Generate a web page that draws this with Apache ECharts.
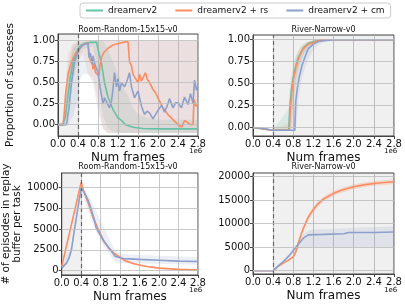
<!DOCTYPE html>
<html><head><meta charset="utf-8">
<script src="https://cdn.jsdelivr.net/npm/echarts@6/dist/echarts.min.js"></script>
<style>html,body{margin:0;padding:0;background:#fff}#c{width:405px;height:305px}</style>
</head><body><div id="c"></div>
<script>
// ---------- DATA (x in units of 1e6 frames) ----------
const seriesNames = ['dreamerv2', 'dreamerv2 + rs', 'dreamerv2 + cm'];
const panelTitles = ['Room-Random-15x15-v0', 'River-Narrow-v0', 'Room-Random-15x15-v0', 'River-Narrow-v0'];
const xTicks = [0, 0.4, 0.8, 1.2, 1.6, 2.0, 2.4, 2.8];
const yTicksSuccess = [0, 0.25, 0.5, 0.75, 1.0];
const yTicksEpRoom = [0, 2500, 5000, 7500, 10000];
const yTicksEpRiver = [0, 5000, 10000, 15000, 20000];

// Top-left: Room-Random success
const tlGreenX = [0,0.1,0.15,0.2,0.25,0.3,0.35,0.4,0.45,0.5,0.55,0.6,0.65,0.7,0.77,0.8,0.87,0.93,1.0,1.1,1.2,1.27,1.35,1.5,1.7,2.0,2.4,2.8];
const tlGreenY = [0,0,0.1,0.35,0.58,0.74,0.84,0.9,0.94,0.96,0.97,0.975,0.98,0.98,0.985,0.9,0.73,0.5,0.33,0.18,0.08,0.05,0.0,-0.03,-0.045,-0.05,-0.05,-0.05];
const tlOrangeX = [0,0.1,0.12,0.15,0.2,0.27,0.33,0.4,0.45,0.5,0.55,0.6,0.63,0.66,0.68,0.7,0.72,0.75,0.78,0.82,0.84,0.87,0.92,1.0,1.1,1.17,1.3,1.4,1.43,1.47,1.5,1.55,1.6,1.63,1.67,1.7,1.75,1.78,1.85,1.9,1.95,2.0,2.1,2.2,2.3,2.4,2.47,2.5,2.53,2.58,2.65,2.7,2.72,2.76,2.8];
const tlOrangeY = [0,0,0.1,0.35,0.6,0.75,0.83,0.88,0.92,0.95,0.97,0.97,0.8,0.74,0.78,0.66,0.73,0.62,0.6,0.58,0.7,0.8,0.86,0.91,0.95,0.96,0.98,0.99,0.75,0.7,0.6,0.55,0.5,0.6,0.52,0.5,0.62,0.55,0.48,0.42,0.38,0.32,0.2,0.12,0.06,0.0,-0.03,-0.03,0.05,0.03,0.0,0.0,0.3,0.22,0.24];
const tlBlueX = [0,0.1,0.17,0.22,0.27,0.33,0.4,0.45,0.5,0.55,0.6,0.62,0.65,0.68,0.7,0.72,0.75,0.8,0.84,0.87,0.9,0.93,0.97,1.03,1.07,1.1,1.13,1.17,1.2,1.23,1.27,1.33,1.38,1.43,1.47,1.53,1.6,1.67,1.73,1.78,1.83,1.9,2.0,2.07,2.13,2.18,2.23,2.3,2.35,2.4,2.47,2.53,2.6,2.65,2.7,2.73,2.77,2.8];
const tlBlueY = [0,0,0,0.2,0.5,0.75,0.87,0.92,0.95,0.96,0.97,0.8,0.85,0.72,0.82,0.76,0.7,0.62,0.45,0.35,0.25,0.32,0.3,0.2,0.28,0.43,0.62,0.45,0.55,0.4,0.5,0.45,0.52,0.62,0.45,0.32,0.4,0.22,0.12,0.16,0.14,0.07,0.17,0.23,0.15,0.22,0.31,0.2,0.26,0.26,0.2,0.33,0.24,0.37,0.25,0.53,0.41,0.45];
const tlBandX = [0,0.1,0.2,0.3,0.4,0.45,0.5,0.6,0.7,0.8,0.85,0.9,1.0,1.1,1.2,1.3,1.4,1.5,1.6,1.8,2.0,2.2,2.4,2.6,2.8];
const tlGreenHi = [0,0.02,0.6,0.9,0.97,0.98,0.99,1.0,1.0,1.0,1.0,1.0,0.9,0.75,0.6,0.45,0.35,0.2,0.12,0.08,0.06,0.06,0.06,0.06,0.06];
const tlGreenLo = [0,-0.02,0.1,0.5,0.8,0.85,0.9,0.92,0.93,0.6,0.3,0.1,-0.05,-0.08,-0.1,-0.1,-0.1,-0.1,-0.1,-0.1,-0.1,-0.1,-0.1,-0.1,-0.1];
const tlOrangeHi = [0,0.02,0.85,0.97,1.0,1.0,1.0,1.0,1.0,1.0,1.0,1.0,1.0,1.0,1.0,1.0,1.0,1.0,1.0,1.0,1.0,1.0,1.0,1.0,1.0];
const tlOrangeLo = [0,-0.02,0.3,0.55,0.75,0.8,0.85,0.6,0.55,0.3,0.1,-0.05,-0.1,-0.1,-0.1,-0.1,-0.1,-0.1,-0.1,-0.1,-0.1,-0.1,-0.1,-0.1,-0.1];
const tlBlueHi = [0,0.02,0.7,0.95,0.98,1.0,1.0,1.0,1.0,1.0,1.0,1.0,1.0,1.0,1.0,1.0,1.0,1.0,1.0,1.0,1.0,1.0,1.0,1.0,1.0];
const tlBlueLo = [0,-0.02,0.0,0.1,0.3,0.55,0.6,0.6,0.5,0.15,0.05,-0.05,-0.1,-0.1,-0.1,-0.1,-0.1,-0.1,-0.1,-0.1,-0.1,-0.1,-0.1,-0.1,-0.1];

// Top-right: River-Narrow success
const trGreenX = [0,0.2,0.4,0.6,0.71,0.73,0.76,0.8,0.85,0.9,1.0,1.1,1.2,1.4,2.8];
const trGreenY = [0,-0.015,-0.03,-0.03,-0.03,0.22,0.42,0.57,0.7,0.8,0.91,0.96,0.98,1.0,1.0];
const trOrangeX = [0,0.1,0.2,0.3,0.4,0.5,0.6,0.72,0.74,0.77,0.8,0.85,0.9,0.95,1.0,1.1,1.2,1.3,1.4,1.6,2.0,2.4,2.8];
const trOrangeY = [0,-0.005,-0.015,-0.025,-0.03,-0.03,-0.03,-0.03,0.2,0.4,0.55,0.68,0.78,0.85,0.9,0.95,0.97,0.99,1.0,1.0,1.0,1.0,1.0];
const trBlueX = [0,0.2,0.4,0.6,0.83,0.85,0.88,0.92,0.97,1.03,1.1,1.2,1.3,1.4,1.6,2.8];
const trBlueY = [0,-0.01,-0.03,-0.03,-0.03,0.3,0.45,0.58,0.7,0.8,0.9,0.95,0.98,0.99,1.0,1.0];
const trBandX = [0,0.4,0.7,0.75,0.8,0.85,0.9,0.95,1.0,1.1,1.2,1.3,1.4,1.6,2.8];
const trGreenHi = [0,-0.02,0.2,0.55,0.72,0.82,0.88,0.92,0.95,0.98,0.99,1,1,1,1];
const trGreenLo = [0,-0.04,-0.04,0.0,0.3,0.5,0.65,0.75,0.82,0.9,0.95,0.97,0.99,1,1];
const trOrangeHi = [0,-0.02,0.05,0.5,0.7,0.8,0.87,0.92,0.95,0.98,0.99,1.0,1.0,1.0,1.0];
const trOrangeLo = [0,-0.04,-0.04,-0.04,0.25,0.55,0.68,0.77,0.84,0.92,0.95,0.97,0.99,1.0,1.0];
const trBlueHi = [0,-0.02,-0.02,0.2,0.5,0.7,0.8,0.86,0.9,0.95,0.98,0.99,1,1,1];
const trBlueLo = [0,-0.04,-0.04,-0.04,-0.04,-0.04,0.3,0.5,0.62,0.78,0.88,0.94,0.97,0.99,1];

// Bottom-left: Room-Random episodes in buffer
const blOrangeX = [0,0.4,0.45,0.5,0.57,0.65,0.77,0.87,0.97,1.07,1.17,1.3,1.5,1.75,2.0,2.4,2.8];
const blOrangeY = [500,10600,9600,8800,7700,6300,4700,3500,2700,2100,1700,1200,800,500,300,150,80];
const blOrangeHi = [600,10900,9900,9100,8000,6600,5000,3750,2900,2250,1850,1330,900,600,380,220,140];
const blOrangeLo = [400,10300,9300,8500,7400,6000,4400,3250,2500,1950,1550,1070,700,400,220,80,20];
const blBlueX = [0,0.1,0.15,0.2,0.25,0.3,0.35,0.4,0.47,0.54,0.61,0.67,0.71,0.77,0.87,1.0,1.1,1.27,1.6,2.0,2.4,2.8];
const blBlueY = [300,900,1500,2500,4500,6300,8200,9900,9300,8500,7300,6100,5100,4500,3500,2500,1700,1450,1350,1250,1150,1100];
const blBandX = [0,0.2,0.3,0.4,0.5,0.6,0.7,0.8,0.9,1.0,1.1,1.2,1.4,2.0,2.8];
const blBlueHi = [500,3000,6800,10000,9500,8500,7200,6000,4800,3500,2400,2100,1900,1800,1600];
const blBlueLo = [100,2000,5800,9600,8000,6200,4800,3600,2600,1800,1000,900,900,800,700];

// Bottom-right: River-Narrow episodes in buffer
const brOrangeX = [0,0.4,0.5,0.6,0.7,0.8,0.85,0.9,0.95,1.0,1.1,1.2,1.3,1.4,1.6,1.8,2.0,2.2,2.4,2.6,2.8];
const brOrangeY = [0,0,900,1600,2200,3000,4000,5800,7500,9000,11400,13000,14300,15200,16400,17200,17800,18200,18500,18700,18850];
const brOrangeHi = [0,0,1000,1750,2400,3300,4500,6400,8100,9600,12000,13600,14800,15700,16900,17700,18300,18700,19000,19200,19350];
const brOrangeLo = [0,0,800,1450,2000,2700,3500,5200,6900,8400,10800,12400,13800,14700,15900,16700,17300,17700,18000,18200,18350];
const brBlueX = [0,0.4,0.5,0.6,0.73,0.8,0.9,1.0,1.1,1.4,1.8,1.9,2.4,2.8];
const brBlueY = [0,0,1000,1900,3300,4300,5600,6900,7600,7700,7850,8100,8100,8200];
const brBandX = [0,0.4,0.8,0.9,1.0,1.1,1.2,1.6,2.0,2.8];
const brBlueHi = [0,0,4600,6300,7800,8600,8800,8900,9100,9400];
const brBlueLo = [0,0,3800,4600,5000,5000,5000,5000,5000,5000];

// ---------- STYLE ----------
const C = {green: '#66c2a5', orange: '#fc8d62', blue: '#8da0cb'};
const FONT = 'DejaVu Sans';
const grids = [
  {left: 58, top: 34, width: 140, height: 102},
  {left: 253, top: 35, width: 141, height: 101},
  {left: 58, top: 173, width: 140, height: 102},
  {left: 253, top: 173, width: 141, height: 101}
];
const yRanges = [[-0.135, 1.08], [-0.096, 1.054], [-520, 11720], [-700, 20720]];
const yTickSets = [yTicksSuccess, yTicksSuccess, yTicksEpRoom, yTicksEpRiver];
const yFmt = [v => v.toFixed(2), v => v.toFixed(2), v => String(v), v => String(v)];
const shade = [[0, 0.4], [0.4, 2.8], [0, 0.4], [0.4, 2.8]];

const zip = (xs, ys) => xs.map((x, i) => [x, ys[i]]);

function bandSeries(p, xs, lo, hi, color, op) {
  return {
    type: 'custom', xAxisIndex: p, yAxisIndex: p, clip: true, silent: true, z: 1,
    data: [[xs[0], lo[0]]],
    renderItem: (params, api) => {
      const pts = [];
      for (let i = 0; i < xs.length; i++) pts.push(api.coord([xs[i], hi[i]]));
      for (let i = xs.length - 1; i >= 0; i--) pts.push(api.coord([xs[i], lo[i]]));
      return {type: 'polygon', shape: {points: pts}, style: {fill: color, opacity: op}};
    }
  };
}
function lineSeries(p, name, xs, ys, color, withMarks) {
  const s = {
    type: 'line', name, xAxisIndex: p, yAxisIndex: p, data: zip(xs, ys),
    showSymbol: false, symbol: 'none', clip: true, z: 3,
    lineStyle: {color, width: 1.6}, itemStyle: {color}
  };
  if (withMarks) {
    s.markArea = {silent: true, itemStyle: {color: 'rgba(0,0,0,0.06)'},
      data: [[{xAxis: shade[p][0]}, {xAxis: shade[p][1]}]]};
    s.markLine = {silent: true, symbol: 'none', label: {show: false}, animation: false,
      data: [
        {xAxis: 0.4, lineStyle: {color: '#666', type: [4, 3], width: 1.2}},
        ...yTickSets[p].map(v => ({yAxis: v, lineStyle: {color: '#bbb', type: 'solid', width: 0.8}}))
      ]};
  }
  return s;
}

const xAxes = grids.map((g, p) => ({
  type: 'value', gridIndex: p, min: 0, max: 2.8, interval: 0.4,
  name: 'Num frames', nameLocation: 'middle', nameGap: 16,
  nameTextStyle: {fontFamily: FONT, fontSize: 12, color: '#111'},
  axisLine: {show: true, onZero: false, lineStyle: {color: '#444', width: 1}},
  axisTick: {show: true, length: 3, lineStyle: {color: '#444'}},
  axisLabel: {fontFamily: FONT, fontSize: 10, color: '#111', margin: 3, formatter: v => v.toFixed(1)},
  splitLine: {show: true, lineStyle: {color: '#bbb', width: 0.8}}
}));
const yAxes = grids.map((g, p) => ({
  type: 'value', gridIndex: p, min: yRanges[p][0], max: yRanges[p][1],
  axisLine: {show: true, onZero: false, lineStyle: {color: '#444', width: 1}},
  axisTick: {show: true, length: 3, lineStyle: {color: '#444'}, customValues: yTickSets[p]},
  axisLabel: {fontFamily: FONT, fontSize: 10, color: '#111', margin: 3, customValues: yTickSets[p], formatter: yFmt[p]},
  splitLine: {show: false}
}));
yAxes[0].name = 'Proportion of successes';
yAxes[0].nameLocation = 'middle'; yAxes[0].nameGap = 42; yAxes[0].nameRotate = 90;
yAxes[0].nameTextStyle = {fontFamily: FONT, fontSize: 10.5, color: '#111'};
yAxes[2].name = '# of episodes in replay\nbuffer per task';
yAxes[2].nameLocation = 'middle'; yAxes[2].nameGap = 33; yAxes[2].nameRotate = 90;
yAxes[2].nameTextStyle = {fontFamily: FONT, fontSize: 10.5, color: '#111', lineHeight: 11};

const BOP = 0.17;
const series = [
  // top-left
  bandSeries(0, tlBandX, tlGreenLo, tlGreenHi, C.green, BOP),
  bandSeries(0, tlBandX, tlOrangeLo, tlOrangeHi, C.orange, BOP),
  bandSeries(0, tlBandX, tlBlueLo, tlBlueHi, C.blue, BOP),
  lineSeries(0, seriesNames[0], tlGreenX, tlGreenY, C.green, true),
  lineSeries(0, seriesNames[1], tlOrangeX, tlOrangeY, C.orange, false),
  lineSeries(0, seriesNames[2], tlBlueX, tlBlueY, C.blue, false),
  // top-right
  bandSeries(1, trBandX, trGreenLo, trGreenHi, C.green, BOP),
  bandSeries(1, trBandX, trOrangeLo, trOrangeHi, C.orange, BOP),
  bandSeries(1, trBandX, trBlueLo, trBlueHi, C.blue, BOP),
  lineSeries(1, seriesNames[0], trGreenX, trGreenY, C.green, true),
  lineSeries(1, seriesNames[1], trOrangeX, trOrangeY, C.orange, false),
  lineSeries(1, seriesNames[2], trBlueX, trBlueY, C.blue, false),
  // bottom-left
  bandSeries(2, blOrangeX, blOrangeLo, blOrangeHi, C.orange, 0.25),
  bandSeries(2, blBandX, blBlueLo, blBlueHi, C.blue, BOP),
  lineSeries(2, seriesNames[1], blOrangeX, blOrangeY, C.orange, true),
  lineSeries(2, seriesNames[2], blBlueX, blBlueY, C.blue, false),
  // bottom-right
  bandSeries(3, brOrangeX, brOrangeLo, brOrangeHi, C.orange, 0.25),
  bandSeries(3, brBandX, brBlueLo, brBlueHi, C.blue, BOP),
  lineSeries(3, seriesNames[1], brOrangeX, brOrangeY, C.orange, true),
  lineSeries(3, seriesNames[2], brBlueX, brBlueY, C.blue, false)
];

const titleCenters = [[128, 26], [323.5, 26], [128, 163], [323.5, 163]];
const chart = echarts.init(document.getElementById('c'), null, {renderer: 'canvas'});
chart.setOption({
  animation: false,
  backgroundColor: '#fff',
  grid: grids.map(g => Object.assign({show: true, borderColor: '#444', borderWidth: 1, backgroundColor: 'transparent'}, g)),
  xAxis: xAxes,
  yAxis: yAxes,
  title: panelTitles.map((t, i) => ({
    text: t, left: titleCenters[i][0], top: titleCenters[i][1], textAlign: 'center',
    padding: 0, textStyle: {fontFamily: FONT, fontSize: 8, fontWeight: 'normal', color: '#111'}
  })),
  legend: {
    data: seriesNames, left: 80, top: 3, padding: [3, 6, 3, 6], itemGap: 18,
    itemWidth: 17, itemHeight: 2, icon: 'rect',
    borderColor: '#ccc', borderWidth: 1, borderRadius: 3,
    textStyle: {fontFamily: FONT, fontSize: 9, color: '#111'}
  },
  graphic: [[189, 148], [384, 148], [189, 287], [384, 287]].map(([x, y]) => ({
    type: 'text', left: x, top: y, silent: true,
    style: {text: '1e6', fontFamily: FONT, fontSize: 7, fill: '#111'}
  })),
  series
});
</script></body></html>
